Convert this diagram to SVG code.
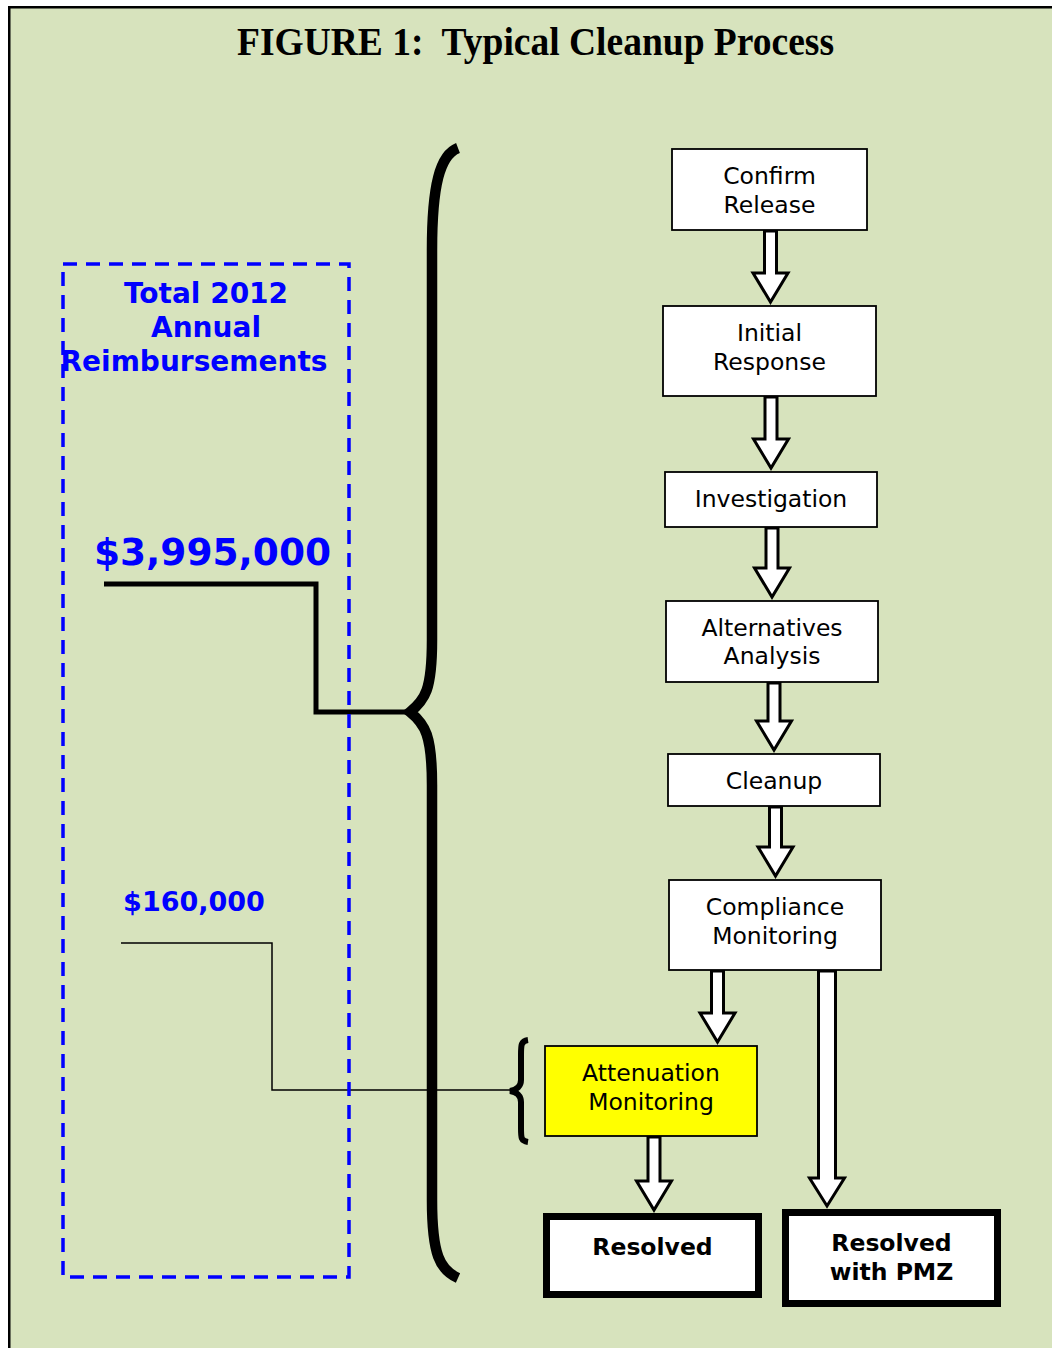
<svg xmlns="http://www.w3.org/2000/svg" width="1052" height="1348" viewBox="0 0 1052 1348">
<style>
.box{fill:#fff;stroke:#000;stroke-width:1.8}
.term{fill:#fff;stroke:#000;stroke-width:7}
.lbl{font-family:"DejaVu Sans",Verdana,sans-serif;font-size:23.5px;fill:#000;text-anchor:middle}
.blbl{font-family:"DejaVu Sans",Verdana,sans-serif;font-size:23.5px;font-weight:bold;fill:#000;text-anchor:middle}
.blue{font-family:"DejaVu Sans",Verdana,sans-serif;font-weight:bold;fill:#0000ff;text-anchor:middle}
.arr{fill:#fff;stroke:#000;stroke-width:3;stroke-linejoin:miter}
</style>
<rect x="0" y="0" width="1052" height="1348" fill="#fff"/>
<rect x="9.25" y="7.25" width="1050" height="1350" fill="#d7e3bd" stroke="#000" stroke-width="2.5"/>
<text x="535.5" y="55" xml:space="preserve" font-family="'Liberation Serif','Times New Roman',serif" font-weight="bold" font-size="39" textLength="597" lengthAdjust="spacingAndGlyphs" text-anchor="middle">FIGURE 1:  Typical Cleanup Process</text>

<g id="connectors">
<path d="M458,148 C440,155 432,185 432,250 L432,640 C432,690 425,700 410,712 C425,724 432,735 432,785 L432,1200 C432,1255 440,1270 458,1278" fill="none" stroke="#000" stroke-width="10.5" stroke-linejoin="miter"/>
<path d="M528,1040 C521,1041 521,1045 521,1055 L521,1080 C521,1086 517,1090 510,1091 C517,1092 521,1096 521,1102 L521,1128 C521,1138 521,1141 528,1142" fill="none" stroke="#000" stroke-width="6"/>
<polyline points="104,584 316,584 316,712 410,712" fill="none" stroke="#000" stroke-width="5" stroke-linejoin="miter"/>
<polyline points="121,943 272,943 272,1090 512,1090" fill="none" stroke="#000" stroke-width="1.5"/>
<path class="arr" d="M764.5,231 L776.5,231 L776.5,273 L788,273 L770.5,302 L753,273 L764.5,273 Z"/>
<path class="arr" d="M765,397 L777,397 L777,439 L788.5,439 L771,468 L753.5,439 L765,439 Z"/>
<path class="arr" d="M766,528 L778,528 L778,568 L789.5,568 L772,597 L754.5,568 L766,568 Z"/>
<path class="arr" d="M768,683 L780,683 L780,721 L791.5,721 L774,750 L756.5,721 L768,721 Z"/>
<path class="arr" d="M769.5,807 L781.5,807 L781.5,847 L793,847 L775.5,876 L758,847 L769.5,847 Z"/>
<path class="arr" d="M711.5,971 L723.5,971 L723.5,1013 L735,1013 L717.5,1042 L700,1013 L711.5,1013 Z"/>
<path class="arr" d="M818.5,971 L835.5,971 L835.5,1178 L844.5,1178 L827,1206 L809.5,1178 L818.5,1178 Z"/>
<path class="arr" d="M648,1137 L660,1137 L660,1181 L671.5,1181 L654,1210 L636.5,1181 L648,1181 Z"/>
</g>

<g id="reimbursements">
<rect x="63" y="264" width="286" height="1013" fill="none" stroke="#0000ff" stroke-width="3.5" stroke-dasharray="14 9"/>
<text class="blue" font-size="28" x="206" y="303">Total 2012</text>
<text class="blue" font-size="28" x="206" y="337">Annual</text>
<text class="blue" font-size="28" x="194" y="371">Reimbursements</text>
</g>
<g id="amount-main"><text class="blue" font-size="37.5" x="212.5" y="565">$3,995,000</text></g>
<g id="amount-atten"><text class="blue" font-size="27" x="194" y="911">$160,000</text></g>

<g id="confirm-release">
<rect class="box" x="672" y="149" width="195" height="81"/>
<text class="lbl" x="769.5" y="184">Confirm</text>
<text class="lbl" x="769.5" y="213">Release</text>
</g>
<g id="initial-response">
<rect class="box" x="663" y="306" width="213" height="90"/>
<text class="lbl" x="769.5" y="341">Initial</text>
<text class="lbl" x="769.5" y="370">Response</text>
</g>
<g id="investigation">
<rect class="box" x="665" y="472" width="212" height="55"/>
<text class="lbl" x="771" y="507">Investigation</text>
</g>
<g id="alternatives-analysis">
<rect class="box" x="666" y="601" width="212" height="81"/>
<text class="lbl" x="772" y="636">Alternatives</text>
<text class="lbl" x="772" y="664">Analysis</text>
</g>
<g id="cleanup">
<rect class="box" x="668" y="754" width="212" height="52"/>
<text class="lbl" x="774" y="789">Cleanup</text>
</g>
<g id="compliance-monitoring">
<rect class="box" x="669" y="880" width="212" height="90"/>
<text class="lbl" x="775" y="915">Compliance</text>
<text class="lbl" x="775" y="944">Monitoring</text>
</g>
<g id="attenuation-monitoring">
<rect class="box" x="545" y="1046" width="212" height="90" style="fill:#ffff00"/>
<text class="lbl" x="651" y="1081">Attenuation</text>
<text class="lbl" x="651" y="1110">Monitoring</text>
</g>
<g id="resolved">
<rect class="term" x="546.5" y="1216.5" width="212" height="78"/>
<text class="blbl" x="652.5" y="1255">Resolved</text>
</g>
<g id="resolved-pmz">
<rect class="term" x="785.5" y="1212.5" width="212" height="91"/>
<text class="blbl" x="891.5" y="1251">Resolved</text>
<text class="blbl" x="891.5" y="1280">with PMZ</text>
</g>
</svg>
